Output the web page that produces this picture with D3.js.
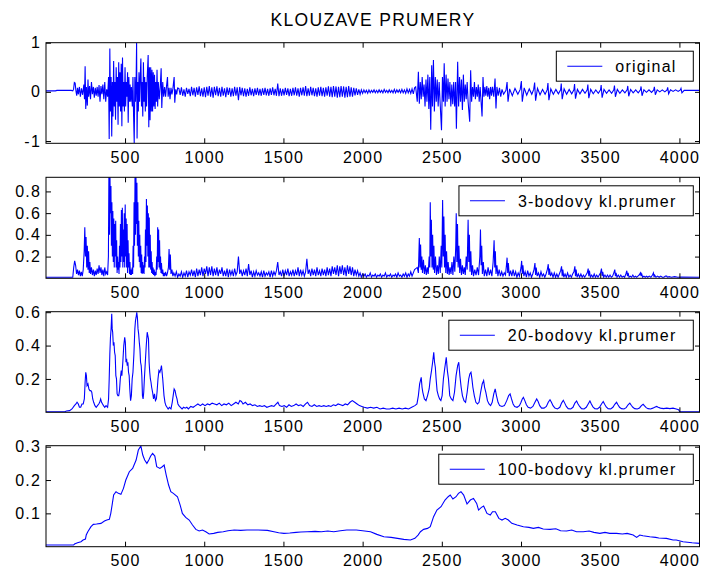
<!DOCTYPE html>
<meta charset="utf-8">
<style>
body { margin: 0; background: #fff; }
svg { display: block; }
text { font-family: "Liberation Sans", Helvetica, Arial, sans-serif; font-size: 16px; letter-spacing: 1.2px; fill: #000; }
.title { font-size: 17.5px; letter-spacing: 1.3px; }
</style>
<body>
<script src="https://d3js.org/d3.v7.min.js"></script>
<script>
// ---- data ----
var xTicks = [500, 1000, 1500, 2000, 2500, 3000, 3500, 4000];
var names = ["original", "3-bodovy kl.prumer", "20-bodovy kl.prumer", "100-bodovy kl.prumer"];
var yTicks1 = [-1, 0, 1];
var yTicks2 = [0.2, 0.4, 0.6, 0.8];
var yTicks3 = [0.2, 0.4, 0.6];
var yTicks4 = [0.1, 0.2, 0.3];

// original signal: start, quiet noisy middle (one sample every 8), second burst
var origHead = [[1,0.02],[60,0.02],[70,0.03],[110,0.03],[160,0.03],[170,0.02],[175,0.05],[180,0.19],[185,0.18],[190,0.02],[195,-0.08],[200,0.08],[205,-0.05],[212,0.1],[218,-0.1],[225,0.07],[232,-0.06],[240,0.15],[244,-0.15],[248,0.52],[252,-0.35],[256,0.1],[262,-0.28],[266,0.25],[270,-0.1],[276,0.12],[282,-0.15],[288,0.2],[294,-0.05],[300,0.1],[306,-0.12],[312,0.08],[318,-0.08],[324,0.1],[330,-0.1],[336,0.14],[342,-0.2],[348,0.12],[354,-0.05],[360,0.15],[366,-0.15],[372,0.2],[378,-0.2],[384,0.05],[390,-0.1],[396,0.3],[400,-0.96],[404,0.88],[408,-0.4],[412,0.3],[416,-0.91],[420,0.2],[424,-0.5],[428,0.63],[432,-0.3],[436,0.2],[440,-0.57],[444,0.5],[448,-0.2],[452,0.3],[456,-0.67],[460,0.6],[464,-0.3],[468,0.4],[472,-0.4],[476,0.57],[480,-0.7],[484,0.7],[488,-0.3],[492,0.2],[496,-0.4],[500,0.5],[504,-0.3],[508,0.2],[512,-0.1],[516,0.4],[520,-0.63],[524,0.3],[528,-0.2],[532,0.15],[536,-0.2],[540,0.1],[546,-0.3],[550,0.3],[554,-0.5],[558,-1.04],[562,0.3],[566,-0.2],[570,0.2],[573,1.0],[576,-0.95],[580,0.2],[584,-0.4],[588,0.4],[592,-0.2],[596,0.3],[600,0.68],[604,-0.3],[608,0.2],[612,-0.5],[616,0.6],[620,-0.2],[624,0.3],[628,-0.4],[632,0.2],[636,-0.3],[640,0.3],[646,0.75],[650,-0.72],[654,0.5],[658,-0.58],[662,0.5],[666,-0.4],[670,0.45],[674,-0.4],[678,0.4],[682,-0.3],[686,0.35],[690,-0.35],[694,0.2],[698,-0.2],[702,0.45],[706,-0.3],[710,0.2],[716,-0.15],[722,0.1],[728,0.48],[732,-0.33],[738,0.2],[744,-0.1],[750,0.1],[756,-0.1],[762,0.12],[768,0.3],[772,-0.1],[778,0.08],[784,-0.15],[790,0.08],[796,-0.05],[802,0.06],[810,0.3],[814,-0.22],[820,0.05],[826,-0.05],[832,0.08]];
var origNoise = [
  0.07,-0.06,0.09,-0.08,0.05,-0.1,0.08,-0.04,0.06,-0.09,
  0.1,-0.07,0.08,-0.1,0.09,-0.06,0.11,-0.09,0.07,-0.1,
  0.09,-0.11,0.1,-0.08,0.12,-0.1,0.09,-0.12,0.1,-0.07,
  0.11,-0.09,0.08,-0.1,0.1,-0.08,0.07,-0.11,0.09,-0.06,
  0.08,-0.1,0.07,-0.09,0.1,-0.08,0.09,-0.17,0.1,-0.07,
  0.08,-0.09,0.07,-0.1,0.06,-0.08,0.09,-0.07,0.06,-0.09,
  0.07,-0.06,0.08,-0.07,0.06,-0.08,0.07,-0.06,0.08,-0.07,
  0.06,-0.08,0.07,-0.06,0.09,-0.07,0.06,-0.08,0.17,-0.09,
  0.07,-0.08,0.06,-0.07,0.08,-0.06,0.07,-0.09,0.06,-0.08,
  0.08,-0.07,0.09,-0.08,0.07,-0.1,0.08,-0.07,0.09,-0.08,
  0.12,-0.09,0.07,-0.08,0.1,-0.07,0.08,-0.09,0.07,-0.1,
  0.09,-0.08,0.1,-0.09,0.08,-0.1,0.09,-0.08,0.11,-0.1,
  0.1,-0.11,0.12,-0.1,0.11,-0.12,0.1,-0.11,0.12,-0.1,
  0.11,-0.12,0.1,-0.11,0.12,-0.1,0.09,-0.1,0.08,-0.07,
  0.07,-0.06,0.05,-0.05,0.04,-0.03,
  0.04,-0.02,0.03,-0.03,0.04,-0.02,0.03,-0.01,0.04,-0.02,
  0.03,-0.02,0.04,-0.01,0.03,-0.02,0.05,-0.01,0.03,-0.02,
  0.04,-0.01,0.03,-0.02,0.05,-0.02,0.04,-0.01,0.04,-0.02,
  0.05,-0.02,0.04,-0.03,0.06,-0.02,0.05,-0.03,0.06,-0.04,
  0.08];
var origTail = [[2335,0.1],[2345,-0.2],[2352,0.41],[2358,-0.24],[2364,0.2],[2370,-0.15],[2376,0.3],[2382,-0.1],[2388,0.15],[2394,-0.3],[2400,0.25],[2406,-0.2],[2412,0.35],[2418,-0.35],[2424,0.3],[2430,-0.77],[2436,0.54],[2441,-0.3],[2447,0.65],[2453,-0.4],[2459,0.3],[2465,-0.2],[2471,0.25],[2477,-0.3],[2483,0.2],[2489,-0.2],[2498,-0.78],[2504,0.3],[2510,-0.2],[2515,0.58],[2521,-0.3],[2527,0.35],[2533,-0.2],[2539,0.27],[2545,-0.15],[2551,0.2],[2557,-0.3],[2563,0.15],[2569,-0.25],[2575,0.2],[2581,-0.3],[2587,0.2],[2592,-0.75],[2600,0.61],[2606,-0.3],[2612,0.3],[2618,-0.2],[2624,0.25],[2630,-0.37],[2636,0.35],[2642,-0.2],[2648,0.15],[2654,-0.15],[2660,0.2],[2666,-0.2],[2676,-0.61],[2682,0.44],[2688,-0.2],[2694,0.1],[2700,-0.1],[2706,0.2],[2712,-0.15],[2718,0.1],[2724,-0.1],[2730,0.15],[2736,-0.2],[2742,0.1],[2754,-0.5],[2760,0.3],[2766,-0.1],[2772,0.1],[2778,-0.08],[2784,0.12],[2790,-0.1],[2796,0.08],[2802,-0.15],[2808,0.1],[2814,-0.08],[2820,0.1],[2828,-0.1],[2836,0.27],[2842,-0.34],[2848,0.1],[2856,-0.08],[2864,0.08],[2872,-0.1],[2880,0.05],[2890,-0.05],[2905,0.03],[2912,0.2],[2918,-0.2],[2928,0.06],[2945,-0.08],[2962,0.07],[2980,-0.05],[2995,0.05],[3002,0.22],[3008,-0.2],[3020,0.08],[3036,-0.07],[3052,0.06],[3068,-0.05],[3080,0.05],[3086,0.19],[3092,-0.18],[3104,0.07],[3120,-0.06],[3136,0.05],[3152,-0.05],[3165,0.04],[3170,0.18],[3176,-0.17],[3188,0.06],[3204,-0.05],[3220,0.05],[3236,-0.04],[3250,0.04],[3254,0.17],[3260,-0.15],[3272,0.06],[3288,-0.05],[3304,0.05],[3320,-0.04],[3334,0.04],[3338,0.16],[3344,-0.14],[3356,0.05],[3372,-0.04],[3388,0.05],[3404,-0.03],[3418,0.04],[3422,0.15],[3428,-0.13],[3440,0.05],[3456,-0.04],[3472,0.04],[3488,-0.03],[3502,0.04],[3506,0.14],[3512,-0.12],[3524,0.05],[3540,-0.03],[3556,0.04],[3572,-0.03],[3586,0.04],[3590,0.13],[3596,-0.1],[3608,0.05],[3624,-0.03],[3640,0.04],[3656,-0.02],[3670,0.04],[3674,0.12],[3680,-0.09],[3692,0.05],[3708,-0.02],[3724,0.04],[3740,-0.02],[3754,0.04],[3758,0.11],[3764,-0.08],[3776,0.04],[3792,-0.01],[3808,0.04],[3824,-0.01],[3838,0.04],[3842,0.1],[3848,-0.06],[3860,0.04],[3876,0.0],[3892,0.04],[3908,0.0],[3922,0.04],[3926,0.09],[3932,-0.04],[3944,0.04],[3960,0.01],[3976,0.04],[3992,0.01],[4006,0.04],[4010,0.07],[4016,-0.02],[4030,0.03],[4130,0.03]];

// 3-point average
var avg3Head = [[1,0.01],[170,0.01],[176,0.1],[182,0.16],[188,0.12],[194,0.04],[200,0.08],[206,0.03],[212,0.07],[218,0.02],[224,0.06],[230,0.02],[236,0.08],[242,0.25],[246,0.47],[250,0.2],[254,0.38],[258,0.1],[262,0.3],[266,0.08],[270,0.25],[274,0.05],[278,0.15],[282,0.04],[288,0.1],[294,0.03],[300,0.08],[306,0.02],[312,0.07],[318,0.03],[324,0.09],[330,0.04],[336,0.12],[342,0.05],[348,0.1],[354,0.03],[360,0.08],[366,0.02],[372,0.1],[378,0.04],[384,0.06],[390,0.03],[395,0.2],[398,0.93],[402,0.4],[405,0.93],[408,0.6],[411,0.85],[414,0.3],[417,0.7],[420,0.2],[423,0.62],[426,0.15],[429,0.55],[432,0.1],[435,0.5],[438,0.2],[441,0.53],[444,0.1],[447,0.35],[450,0.05],[453,0.2],[456,0.08],[459,0.15],[462,0.04],[465,0.3],[468,0.1],[471,0.5],[474,0.15],[477,0.63],[480,0.2],[483,0.65],[486,0.1],[489,0.45],[492,0.15],[495,0.6],[498,0.1],[501,0.68],[504,0.2],[507,0.55],[510,0.1],[513,0.5],[516,0.05],[519,0.35],[522,0.1],[525,0.23],[528,0.04],[531,0.15],[534,0.03],[537,0.08],[540,0.03],[545,0.1],[548,0.04],[551,0.3],[554,0.1],[557,0.7],[560,0.3],[563,0.93],[566,0.4],[569,0.93],[572,0.5],[575,0.88],[578,0.3],[581,0.7],[584,0.2],[587,0.53],[590,0.15],[593,0.4],[596,0.1],[599,0.3],[602,0.05],[605,0.22],[608,0.04],[611,0.15],[614,0.05],[617,0.12],[620,0.04],[623,0.2],[626,0.1],[629,0.45],[632,0.15],[635,0.73],[638,0.3],[641,0.67],[644,0.2],[647,0.6],[650,0.1],[653,0.56],[656,0.1],[659,0.4],[662,0.08],[665,0.25],[668,0.05],[671,0.15],[674,0.04],[677,0.1],[680,0.03],[684,0.08],[688,0.02],[692,0.06],[696,0.03],[700,0.2],[703,0.08],[706,0.47],[709,0.15],[712,0.45],[715,0.1],[718,0.35],[721,0.08],[724,0.2],[727,0.05],[730,0.14],[734,0.04],[738,0.08],[742,0.02],[746,0.05],[750,0.02],[756,0.06],[762,0.02],[768,0.05],[774,0.1],[778,0.27],[782,0.08],[786,0.22],[790,0.04],[796,0.08],[802,0.02]];
var avg3Noise = [
  0.05,0.02,0.06,0.01,0.04,0.02,0.06,0.01,0.05,0.02,
  0.07,0.01,0.06,0.03,0.08,0.02,0.07,0.01,0.09,0.02,
  0.08,0.03,0.1,0.02,0.09,0.04,0.11,0.02,0.1,0.03,
  0.11,0.02,0.09,0.03,0.1,0.02,0.08,0.04,0.1,0.02,
  0.07,0.02,0.09,0.01,0.08,0.03,0.07,0.02,0.09,0.03,
  0.06,0.2,0.04,0.08,0.02,0.07,0.03,0.09,0.02,0.13,
  0.03,0.07,0.01,0.06,0.02,0.07,0.03,0.05,0.02,0.06,
  0.01,0.07,0.02,0.05,0.03,0.06,0.01,0.07,0.02,0.06,
  0.03,0.07,0.15,0.03,0.06,0.02,0.08,0.02,0.07,0.03,
  0.09,0.02,0.06,0.03,0.08,0.02,0.07,0.03,0.1,0.02,
  0.08,0.03,0.07,0.02,0.06,0.18,0.04,0.08,0.02,0.09,
  0.03,0.08,0.02,0.1,0.03,0.07,0.02,0.09,0.03,0.08,
  0.02,0.1,0.03,0.09,0.02,0.11,0.04,0.1,0.03,0.12,
  0.02,0.11,0.04,0.12,0.03,0.1,0.02,0.12,0.04,0.11,
  0.03,0.1,0.02,0.08,0.03,0.07,0.02,0.05,0.01,0.04,
  0.02,0.04,0.01,0.03,0.02,0.05,0.01,0.03,0.02,0.04,
  0.01,0.03,0.02,0.04,0.01,0.03,0.02,0.05,0.01,0.03,
  0.02,0.04,0.01,0.03,0.02,0.04,0.01,0.05,0.02,0.03,
  0.01,0.04,0.02,0.05,0.01,0.04,0.02,0.06,0.02,0.05,
  0.08];
var avg3Tail = [[2345,0.1],[2352,0.05],[2358,0.37],[2362,0.1],[2366,0.31],[2370,0.08],[2374,0.2],[2378,0.05],[2384,0.17],[2390,0.04],[2396,0.12],[2402,0.03],[2408,0.1],[2414,0.04],[2420,0.2],[2424,0.1],[2427,0.7],[2431,0.2],[2434,0.54],[2438,0.1],[2442,0.4],[2446,0.08],[2450,0.3],[2454,0.05],[2460,0.2],[2466,0.03],[2472,0.12],[2478,0.04],[2484,0.2],[2490,0.05],[2496,0.3],[2500,0.1],[2505,0.72],[2509,0.2],[2513,0.57],[2517,0.1],[2521,0.4],[2525,0.05],[2530,0.25],[2535,0.04],[2540,0.15],[2546,0.03],[2552,0.1],[2558,0.04],[2564,0.15],[2570,0.03],[2576,0.2],[2582,0.06],[2588,0.3],[2591,0.6],[2595,0.15],[2599,0.5],[2603,0.1],[2608,0.3],[2613,0.05],[2618,0.18],[2624,0.03],[2630,0.12],[2636,0.04],[2642,0.1],[2648,0.03],[2654,0.2],[2660,0.08],[2666,0.54],[2670,0.15],[2674,0.4],[2678,0.06],[2683,0.25],[2688,0.03],[2694,0.12],[2700,0.02],[2708,0.08],[2716,0.03],[2724,0.1],[2732,0.03],[2740,0.2],[2744,0.45],[2748,0.12],[2752,0.3],[2756,0.04],[2762,0.15],[2768,0.02],[2776,0.08],[2784,0.02],[2792,0.1],[2800,0.03],[2808,0.08],[2816,0.02],[2824,0.15],[2830,0.35],[2834,0.1],[2838,0.25],[2842,0.04],[2848,0.12],[2854,0.02],[2862,0.08],[2870,0.02],[2878,0.06],[2886,0.02],[2894,0.05],[2902,0.03],[2908,0.12],[2912,0.19],[2916,0.05],[2920,0.14],[2926,0.02],[2934,0.07],[2942,0.02],[2950,0.08],[2958,0.02],[2966,0.06],[2974,0.01],[2982,0.05],[2990,0.02],[3000,0.1],[3004,0.16],[3008,0.04],[3012,0.12],[3018,0.02],[3026,0.06],[3034,0.01],[3042,0.07],[3050,0.02],[3058,0.05],[3066,0.01],[3074,0.04],[3082,0.08],[3088,0.14],[3092,0.03],[3096,0.1],[3102,0.02],[3110,0.05],[3118,0.01],[3126,0.06],[3134,0.02],[3142,0.04],[3150,0.01],[3158,0.04],[3166,0.08],[3172,0.13],[3176,0.03],[3180,0.09],[3186,0.02],[3194,0.05],[3202,0.01],[3210,0.05],[3218,0.01],[3226,0.04],[3234,0.01],[3242,0.04],[3250,0.07],[3256,0.11],[3260,0.02],[3264,0.08],[3270,0.01],[3278,0.04],[3286,0.01],[3294,0.05],[3302,0.01],[3310,0.03],[3318,0.01],[3326,0.04],[3334,0.06],[3340,0.11],[3344,0.02],[3348,0.08],[3354,0.01],[3362,0.04],[3370,0.01],[3378,0.04],[3386,0.01],[3394,0.03],[3402,0.01],[3410,0.03],[3418,0.05],[3424,0.09],[3428,0.02],[3432,0.07],[3438,0.01],[3446,0.03],[3454,0.01],[3462,0.04],[3470,0.01],[3478,0.03],[3486,0.01],[3494,0.03],[3502,0.05],[3508,0.09],[3512,0.02],[3516,0.06],[3522,0.01],[3530,0.03],[3538,0.01],[3546,0.03],[3554,0.01],[3562,0.03],[3570,0.01],[3578,0.02],[3586,0.05],[3592,0.08],[3596,0.02],[3600,0.05],[3606,0.01],[3614,0.03],[3622,0.01],[3630,0.03],[3638,0.01],[3646,0.02],[3654,0.01],[3662,0.04],[3668,0.07],[3672,0.02],[3676,0.05],[3682,0.01],[3690,0.02],[3698,0.01],[3706,0.03],[3714,0.01],[3722,0.02],[3730,0.01],[3738,0.02],[3746,0.03],[3754,0.05],[3758,0.02],[3762,0.04],[3768,0.01],[3776,0.02],[3784,0.01],[3792,0.02],[3800,0.01],[3810,0.02],[3820,0.01],[3830,0.03],[3836,0.05],[3840,0.01],[3844,0.03],[3852,0.01],[3862,0.02],[3872,0.01],[3882,0.02],[3892,0.01],[3902,0.01],[3912,0.02],[3920,0.02],[3924,0.01],[3935,0.015],[3950,0.01],[3970,0.015],[3990,0.01],[4010,0.012],[4130,0.01]];

var avg20 = [[1,0.003],[120,0.003],[130,0.008],[150,0.01],[165,0.02],[180,0.04],[190,0.05],[197,0.06],[205,0.05],[212,0.03],[220,0.03],[228,0.05],[236,0.05],[243,0.08],[248,0.18],[252,0.24],[256,0.22],[260,0.16],[266,0.17],[272,0.14],[278,0.13],[284,0.13],[290,0.12],[296,0.08],[302,0.06],[310,0.04],[318,0.03],[326,0.04],[334,0.05],[340,0.06],[346,0.08],[352,0.06],[358,0.05],[364,0.04],[372,0.03],[380,0.04],[390,0.03],[396,0.08],[400,0.2],[404,0.35],[408,0.45],[412,0.5],[416,0.59],[419,0.5],[422,0.48],[426,0.4],[430,0.42],[434,0.36],[438,0.34],[442,0.22],[446,0.2],[450,0.11],[455,0.1],[460,0.1],[465,0.13],[470,0.2],[476,0.25],[480,0.22],[486,0.3],[492,0.4],[498,0.45],[502,0.42],[506,0.3],[510,0.32],[514,0.28],[518,0.3],[522,0.24],[526,0.22],[530,0.14],[535,0.07],[540,0.1],[545,0.2],[550,0.24],[556,0.35],[562,0.5],[566,0.55],[570,0.57],[574,0.6],[578,0.57],[582,0.5],[586,0.47],[590,0.42],[594,0.38],[598,0.3],[602,0.28],[606,0.22],[610,0.1],[614,0.08],[618,0.12],[622,0.2],[628,0.3],[634,0.4],[640,0.48],[644,0.46],[648,0.44],[652,0.3],[656,0.24],[660,0.2],[664,0.18],[668,0.15],[674,0.12],[680,0.08],[686,0.11],[692,0.07],[698,0.08],[702,0.12],[708,0.2],[714,0.25],[720,0.24],[726,0.26],[730,0.28],[734,0.24],[738,0.2],[742,0.15],[746,0.1],[752,0.06],[758,0.04],[765,0.03],[772,0.02],[780,0.03],[790,0.02],[798,0.06],[804,0.1],[810,0.14],[816,0.13],[822,0.1],[828,0.08],[834,0.05],[840,0.04],[850,0.03],[860,0.02],[870,0.03],[880,0.025],[890,0.03],[900,0.02],[915,0.035],[930,0.03],[945,0.04],[960,0.05],[975,0.04],[990,0.05],[1005,0.04],[1020,0.05],[1035,0.045],[1050,0.055],[1065,0.05],[1080,0.045],[1095,0.055],[1110,0.04],[1125,0.05],[1140,0.045],[1155,0.055],[1170,0.04],[1185,0.05],[1200,0.06],[1215,0.05],[1225,0.07],[1235,0.065],[1245,0.05],[1260,0.06],[1275,0.045],[1290,0.05],[1305,0.04],[1320,0.045],[1335,0.035],[1350,0.04],[1365,0.035],[1380,0.04],[1395,0.03],[1410,0.035],[1425,0.04],[1440,0.035],[1455,0.05],[1465,0.06],[1475,0.04],[1490,0.035],[1505,0.04],[1520,0.03],[1535,0.045],[1550,0.035],[1565,0.04],[1580,0.05],[1595,0.04],[1610,0.045],[1625,0.035],[1640,0.05],[1652,0.06],[1665,0.04],[1680,0.035],[1695,0.045],[1710,0.035],[1725,0.04],[1740,0.035],[1755,0.04],[1770,0.035],[1785,0.04],[1800,0.035],[1815,0.045],[1830,0.04],[1845,0.05],[1860,0.045],[1875,0.04],[1890,0.05],[1905,0.045],[1920,0.06],[1935,0.07],[1950,0.06],[1965,0.05],[1980,0.04],[1995,0.035],[2010,0.03],[2030,0.025],[2050,0.03],[2070,0.025],[2090,0.03],[2110,0.02],[2130,0.025],[2150,0.02],[2170,0.02],[2190,0.025],[2210,0.02],[2230,0.025],[2250,0.02],[2270,0.025],[2290,0.02],[2310,0.03],[2330,0.04],[2343,0.05],[2352,0.1],[2360,0.17],[2365,0.19],[2370,0.21],[2375,0.15],[2380,0.12],[2390,0.08],[2400,0.07],[2410,0.1],[2420,0.14],[2427,0.2],[2435,0.25],[2442,0.3],[2449,0.36],[2454,0.3],[2459,0.27],[2464,0.2],[2470,0.13],[2478,0.1],[2486,0.08],[2494,0.07],[2502,0.1],[2510,0.2],[2518,0.26],[2528,0.33],[2535,0.25],[2542,0.2],[2550,0.1],[2560,0.08],[2570,0.07],[2580,0.12],[2590,0.22],[2600,0.28],[2607,0.3],[2614,0.22],[2622,0.15],[2630,0.1],[2640,0.07],[2650,0.06],[2660,0.12],[2670,0.2],[2677,0.23],[2684,0.24],[2690,0.2],[2696,0.15],[2705,0.1],[2715,0.06],[2725,0.05],[2735,0.06],[2745,0.12],[2755,0.17],[2764,0.19],[2770,0.15],[2778,0.12],[2788,0.07],[2798,0.05],[2808,0.04],[2818,0.06],[2828,0.11],[2837,0.14],[2845,0.1],[2855,0.06],[2865,0.04],[2880,0.035],[2895,0.04],[2910,0.07],[2922,0.1],[2931,0.11],[2940,0.08],[2950,0.05],[2960,0.035],[2975,0.03],[2990,0.04],[3000,0.06],[3008,0.08],[3015,0.09],[3024,0.07],[3034,0.045],[3045,0.03],[3060,0.025],[3075,0.035],[3088,0.06],[3099,0.08],[3108,0.065],[3118,0.04],[3130,0.025],[3145,0.025],[3160,0.035],[3172,0.06],[3183,0.075],[3192,0.06],[3202,0.04],[3214,0.025],[3230,0.02],[3245,0.03],[3256,0.055],[3267,0.072],[3276,0.055],[3286,0.035],[3298,0.022],[3314,0.02],[3328,0.03],[3340,0.055],[3351,0.068],[3360,0.05],[3370,0.035],[3382,0.022],[3398,0.02],[3412,0.03],[3424,0.05],[3435,0.068],[3444,0.05],[3454,0.033],[3466,0.022],[3482,0.02],[3496,0.03],[3508,0.05],[3519,0.065],[3528,0.048],[3538,0.032],[3550,0.022],[3566,0.02],[3580,0.03],[3592,0.048],[3603,0.06],[3612,0.045],[3622,0.03],[3634,0.022],[3650,0.02],[3664,0.028],[3676,0.045],[3687,0.055],[3696,0.042],[3706,0.03],[3718,0.022],[3734,0.02],[3748,0.026],[3760,0.04],[3771,0.048],[3780,0.038],[3790,0.028],[3802,0.022],[3818,0.02],[3832,0.025],[3844,0.03],[3856,0.035],[3866,0.03],[3880,0.025],[3900,0.022],[3920,0.025],[3940,0.022],[3960,0.025],[3980,0.02],[3995,0.015],[4002,0.003],[4130,0.003]];

var avg100 = [[1,0.005],[175,0.005],[181,0.008],[200,0.012],[222,0.015],[235,0.02],[250,0.023],[255,0.035],[265,0.045],[285,0.06],[300,0.067],[320,0.068],[348,0.07],[370,0.077],[385,0.08],[401,0.082],[410,0.1],[420,0.13],[428,0.155],[443,0.165],[458,0.16],[474,0.157],[490,0.175],[505,0.2],[527,0.225],[548,0.235],[570,0.26],[584,0.29],[600,0.302],[612,0.275],[624,0.26],[638,0.25],[650,0.26],[662,0.272],[674,0.28],[688,0.272],[700,0.24],[720,0.235],[735,0.24],[747,0.245],[760,0.215],[775,0.185],[789,0.165],[805,0.16],[831,0.15],[848,0.125],[862,0.1],[883,0.088],[905,0.08],[926,0.065],[947,0.052],[968,0.047],[989,0.05],[1010,0.045],[1031,0.038],[1060,0.04],[1085,0.043],[1120,0.045],[1150,0.048],[1189,0.05],[1230,0.049],[1270,0.05],[1300,0.05],[1340,0.05],[1399,0.049],[1440,0.045],[1470,0.042],[1503,0.04],[1540,0.041],[1580,0.043],[1610,0.044],[1650,0.045],[1700,0.046],[1740,0.045],[1780,0.047],[1818,0.045],[1860,0.048],[1900,0.05],[1923,0.05],[1960,0.05],[2000,0.048],[2050,0.045],[2090,0.037],[2134,0.03],[2180,0.028],[2220,0.025],[2260,0.022],[2302,0.02],[2330,0.025],[2350,0.035],[2365,0.045],[2385,0.052],[2410,0.055],[2427,0.06],[2448,0.09],[2469,0.11],[2495,0.12],[2520,0.14],[2540,0.15],[2553,0.155],[2570,0.143],[2590,0.15],[2605,0.16],[2621,0.165],[2638,0.155],[2659,0.128],[2680,0.14],[2700,0.145],[2720,0.13],[2732,0.11],[2750,0.118],[2764,0.122],[2785,0.1],[2806,0.095],[2820,0.105],[2838,0.105],[2860,0.085],[2880,0.08],[2900,0.085],[2920,0.08],[2942,0.07],[2975,0.065],[3015,0.06],[3050,0.058],[3078,0.055],[3110,0.058],[3140,0.053],[3183,0.052],[3220,0.054],[3250,0.048],[3288,0.047],[3320,0.05],[3350,0.045],[3393,0.045],[3430,0.047],[3460,0.043],[3498,0.04],[3530,0.043],[3560,0.04],[3603,0.04],[3640,0.038],[3670,0.04],[3708,0.035],[3730,0.028],[3750,0.035],[3770,0.033],[3813,0.03],[3850,0.028],[3870,0.026],[3918,0.025],[3960,0.02],[3980,0.02],[4023,0.015],[4080,0.012],[4128,0.01]];

// noisy stretches are given one value per 8 samples
var noiseStep = 8;
function samples(start, vals) {
  return vals.map(function(v, i) { return [start + i * noiseStep, v]; });
}
var original = origHead.concat(samples(840, origNoise), origTail);
var avg3 = avg3Head.concat(samples(808, avg3Noise), avg3Tail);

// ---- layout ----
var W = 701, H = 572;
var left = 46, right = 700;

var svg = d3.select("body").append("svg")
    .attr("width", W)
    .attr("height", H);

var x = d3.scaleLinear().domain([1, 4130]).range([left, right]);

var panels = [
  {data: original, top: 42.7, bottom: 143.3, ydom: [-1.047, 1], ticks: yTicks1},
  {data: avg3,     top: 177.3, bottom: 278.3, ydom: [0, 0.93],  ticks: yTicks2},
  {data: avg20,    top: 311.7, bottom: 412.3, ydom: [0, 0.603], ticks: yTicks3},
  {data: avg100,   top: 445.7, bottom: 546.7, ydom: [0, 0.303], ticks: yTicks4}
];

svg.append("text")
    .attr("class", "title")
    .attr("x", (left + right) / 2)
    .attr("y", 26)
    .attr("text-anchor", "middle")
    .text("KLOUZAVE PRUMERY");

panels.forEach(function(p, i) {
  var y = d3.scaleLinear().domain(p.ydom).range([p.bottom, p.top]);
  var g = svg.append("g");

  g.append("clipPath").attr("id", "clip" + i)
    .append("rect")
      .attr("x", left).attr("y", p.top)
      .attr("width", right - left).attr("height", p.bottom - p.top);

  var line = d3.line()
      .x(function(d) { return x(d[0]); })
      .y(function(d) { return y(d[1]); });

  g.append("path")
      .datum(p.data)
      .attr("clip-path", "url(#clip" + i + ")")
      .attr("fill", "none")
      .attr("stroke", "#0000ff")
      .attr("stroke-width", 1.1)
      .attr("d", line);

  // axes, ticks pointing inward like matlab
  var fmt = function(d) { return String(d); };
  var ax = [
    g.append("g").attr("transform", "translate(0," + p.bottom + ")")
      .call(d3.axisBottom(x).tickValues(xTicks).tickSize(-5).tickPadding(8).tickFormat(fmt)),
    g.append("g").attr("transform", "translate(0," + p.top + ")")
      .call(d3.axisTop(x).tickValues(xTicks).tickSize(-5).tickFormat("")),
    g.append("g").attr("transform", "translate(" + left + ",0)")
      .call(d3.axisLeft(y).tickValues(p.ticks).tickSize(-5).tickPadding(5).tickFormat(fmt)),
    g.append("g").attr("transform", "translate(" + right + ",0)")
      .call(d3.axisRight(y).tickValues(p.ticks).tickSize(-5).tickFormat(""))
  ];
  ax.forEach(function(a) { a.select(".domain").remove(); });

  g.append("rect")
      .attr("x", left).attr("y", p.top)
      .attr("width", right - left - 0.5).attr("height", p.bottom - p.top)
      .attr("fill", "none")
      .attr("stroke", "#000")
      .attr("stroke-width", 1);

  // legend
  var lg = g.append("g");
  var mid = p.top + 23.5;
  var box = lg.append("rect")
      .attr("y", mid - 15).attr("height", 30)
      .attr("fill", "#fff").attr("stroke", "#000").attr("stroke-width", 1);
  var txt = lg.append("text")
      .attr("x", 676.5).attr("y", mid + 5.8)
      .attr("text-anchor", "end")
      .text(names[i]);
  var bb = txt.node().getBBox();
  var bl = bb.x - 59;
  box.attr("x", bl).attr("width", 693.3 - bl);
  lg.append("line")
      .attr("x1", bl + 11).attr("x2", bl + 46)
      .attr("y1", mid).attr("y2", mid)
      .attr("stroke", "#0000ff").attr("stroke-width", 1.1);
});
</script>
</body>
